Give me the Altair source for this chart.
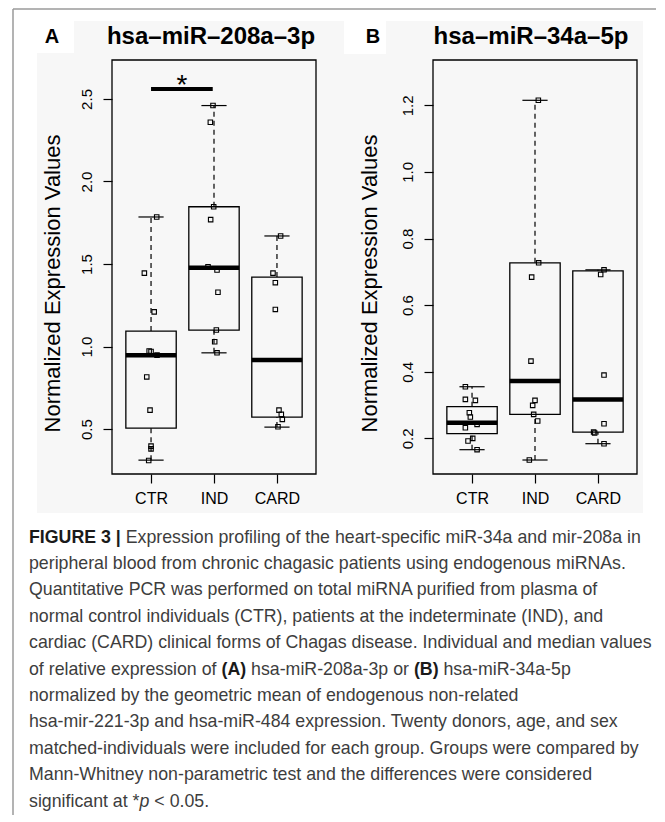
import altair as alt
import pandas as pd

GROUPS = ["CTR", "IND", "CARD"]
POS = [1, 2, 3]

# ---------- Panel A: hsa-miR-208a-3p ----------
A_LO = [0.312, 0.962, 0.512]
A_Q1 = [0.506, 1.100, 0.573]
A_MED = [0.948, 1.478, 0.918]
A_Q3 = [1.094, 1.847, 1.421]
A_HI = [1.785, 2.460, 1.670]

A_CTR = [1.785, 1.445, 1.21, 0.973, 0.97, 0.948, 0.816, 0.615, 0.397, 0.38, 0.31]
A_CTR_J = [0.09, -0.106, 0.05, -0.03, 0.0, 0.095, -0.068, -0.016, 0.0, 0.0, -0.037]
A_IND = [2.46, 2.359, 1.847, 1.769, 1.484, 1.464, 1.329, 1.10, 1.029, 0.962]
A_IND_J = [-0.016, -0.058, -0.005, -0.053, -0.095, 0.048, 0.063, 0.037, 0.011, 0.048]
A_CARD = [1.67, 1.445, 1.387, 1.225, 0.615, 0.589, 0.559, 0.514]
A_CARD_J = [0.058, -0.063, -0.026, -0.026, 0.032, 0.069, 0.085, 0.016]

A_YDOM = [0.228, 2.736]
A_TICKS = [0.5, 1.0, 1.5, 2.0, 2.5]
A_SIG = {"x": 1.0, "x2": 1.98, "y": 2.56, "ystar": 2.53, "xstar": 1.49}

# ---------- Panel B: hsa-miR-34a-5p ----------
B_LO = [0.166, 0.135, 0.184]
B_Q1 = [0.214, 0.272, 0.219]
B_MED = [0.247, 0.372, 0.317]
B_Q3 = [0.295, 0.727, 0.703]
B_HI = [0.355, 1.215, 0.706]

B_CTR = [0.355, 0.317, 0.314, 0.277, 0.264, 0.242, 0.232, 0.2, 0.192, 0.166]
B_CTR_J = [-0.106, -0.106, 0.053, -0.043, -0.027, 0.08, -0.106, 0.011, -0.064, 0.08]
B_IND = [1.215, 0.727, 0.684, 0.432, 0.314, 0.299, 0.272, 0.252, 0.135]
B_IND_J = [0.053, 0.058, -0.053, -0.064, 0.0, -0.037, -0.021, 0.043, -0.09]
B_CARD = [0.706, 0.692, 0.39, 0.244, 0.219, 0.216, 0.184]
B_CARD_J = [0.096, 0.043, 0.096, 0.096, -0.069, -0.053, 0.096]

B_YDOM = [0.093, 1.336]
B_TICKS = [0.2, 0.4, 0.6, 0.8, 1.0, 1.2]

YTITLE = "Normalized Expression Values"

CAPTION = [
    [("FIGURE 3 |", "b"), (" Expression profiling of the heart-specific miR-34a and mir-208a in", "r")],
    [("peripheral blood from chronic chagasic patients using endogenous miRNAs.", "r")],
    [("Quantitative PCR was performed on total miRNA purified from plasma of", "r")],
    [("normal control individuals (CTR), patients at the indeterminate (IND), and", "r")],
    [("cardiac (CARD) clinical forms of Chagas disease. Individual and median values", "r")],
    [("of relative expression of ", "r"), ("(A)", "b"), (" hsa-miR-208a-3p or ", "r"), ("(B)", "b"), (" hsa-miR-34a-5p", "r")],
    [("normalized by the geometric mean of endogenous non-related", "r")],
    [("hsa-mir-221-3p and hsa-miR-484 expression. Twenty donors, age, and sex", "r")],
    [("matched-individuals were included for each group. Groups were compared by", "r")],
    [("Mann-Whitney non-parametric test and the differences were considered", "r")],
    [("significant at *", "r"), ("p", "i"), (" < 0.05.", "r")],
]

FONT = "Liberation Sans"

# Arial / Liberation Sans advance widths (per 1000 em)
REG = {" ": 278, "(": 333, ")": 333, "*": 389, ",": 278, "-": 333, ".": 278, "<": 584, "|": 260,
       "A": 667, "B": 667, "C": 722, "D": 722, "E": 667, "F": 611, "G": 778, "H": 722, "I": 278,
       "J": 500, "K": 667, "L": 556, "M": 833, "N": 722, "O": 778, "P": 667, "Q": 778, "R": 722,
       "S": 667, "T": 611, "U": 722, "V": 667, "W": 944, "X": 667, "Y": 667, "Z": 611,
       "a": 556, "b": 556, "c": 500, "d": 556, "e": 556, "f": 278, "g": 556, "h": 556, "i": 222,
       "j": 222, "k": 500, "l": 222, "m": 833, "n": 556, "o": 556, "p": 556, "q": 556, "r": 333,
       "s": 500, "t": 278, "u": 556, "v": 500, "w": 722, "x": 500, "y": 500, "z": 500}
BOLD = {" ": 278, "(": 333, ")": 333, "|": 280, "A": 722, "B": 722, "E": 667, "F": 611, "G": 778,
        "I": 278, "R": 722, "U": 722}


def em_width(s, style):
    table = BOLD if style == "b" else REG
    return sum(table.get(c, 556) for c in s) / 1000.0


def panel_frames(lo, q1, med, q3, hi):
    st = pd.DataFrame({"pos": POS, "lo": lo, "q1": q1, "med": med, "q3": q3, "hi": hi})
    st["xl"] = st["pos"] - 0.4
    st["xr"] = st["pos"] + 0.4
    st["sl"] = st["pos"] - 0.2
    st["sr"] = st["pos"] + 0.2
    return st


def points_frame(groups):
    rows = []
    for p, vals, jit in groups:
        for v, j in zip(vals, jit):
            rows.append({"x": p + j, "val": v})
    return pd.DataFrame(rows)


one = pd.DataFrame({"k": [0]})
label_expr = "datum.value == 1 ? '%s' : datum.value == 2 ? '%s' : '%s'" % tuple(GROUPS)
W, H = 204, 414


def make_panel(st, pts, ydom, yticks, title, letter, title_x, sig=None, extra=None, ytitle_x=-53):
    xs = alt.Scale(domain=[0.38, 3.62], nice=False, zero=False)
    ys = alt.Scale(domain=ydom, nice=False, zero=False)
    xaxis = alt.Axis(values=POS, labelExpr=label_expr, tickSize=9, labelPadding=7, labelFontSize=16,
                     title=None, grid=False, domain=False, labelFont=FONT, labelColor="black",
                     tickColor="black", tickWidth=1.2, zindex=2)
    yaxis = alt.Axis(values=yticks, format=".1f", labelAngle=270, labelAlign="center",
                     labelBaseline="alphabetic", labelPadding=12, tickSize=9, labelFontSize=15,
                     labelFont=FONT, labelColor="black", tickColor="black", tickWidth=1.2,
                     title=YTITLE, titleFontSize=22, titleFontWeight="normal", titleFont=FONT,
                     titleColor="black", titleAngle=270, titleAlign="center",
                     titleBaseline="alphabetic", titleX=ytitle_x, titleY=223,
                     grid=False, domain=False, labelOverlap=False, labelFlush=False, zindex=2)
    layers = []
    if extra is not None:
        layers.extend(extra)
    layers.append(alt.Chart(one).mark_rect(fillOpacity=0, stroke="black", strokeWidth=1.3).encode(
        x=alt.value(0), x2=alt.value(W), y=alt.value(0), y2=alt.value(H)))
    base = alt.Chart(st)
    box = base.mark_rect(fillOpacity=0, stroke="black", strokeWidth=1.3).encode(
        x=alt.X("xl:Q", scale=xs, axis=xaxis), x2="xr:Q",
        y=alt.Y("q1:Q", scale=ys, axis=yaxis), y2="q3:Q")
    wh_up = base.mark_rule(color="black", strokeWidth=1.2, strokeDash=[5, 4]).encode(
        x="pos:Q", y="q3:Q", y2="hi:Q")
    wh_dn = base.mark_rule(color="black", strokeWidth=1.2, strokeDash=[5, 4]).encode(
        x="pos:Q", y="lo:Q", y2="q1:Q")
    cap_up = base.mark_rule(color="black", strokeWidth=1.2).encode(x="sl:Q", x2="sr:Q", y="hi:Q")
    cap_dn = base.mark_rule(color="black", strokeWidth=1.2).encode(x="sl:Q", x2="sr:Q", y="lo:Q")
    median = base.mark_rule(color="black", strokeWidth=4.5).encode(x="xl:Q", x2="xr:Q", y="med:Q")
    pt = alt.Chart(pts).mark_point(shape="square", filled=False, size=20, color="black",
                                   strokeWidth=1.1, opacity=1).encode(x="x:Q", y="val:Q")
    layers += [box, wh_up, wh_dn, cap_up, cap_dn, median, pt]
    if sig is not None:
        sdf = pd.DataFrame([sig])
        layers.append(alt.Chart(sdf).mark_rule(color="black", strokeWidth=4).encode(
            x="x:Q", x2="x2:Q", y="y:Q"))
        layers.append(alt.Chart(sdf).mark_text(text="*", fontSize=28, font=FONT, align="center",
                                               baseline="alphabetic", color="black").encode(
            x="xstar:Q", y="ystar:Q"))
    layers.append(alt.Chart(one).mark_text(text=title, fontSize=24, fontWeight="bold", font=FONT,
                                           align="center", baseline="alphabetic", color="black").encode(
        x=alt.value(title_x), y=alt.value(-16)))
    layers.append(alt.Chart(one).mark_text(text=letter, fontSize=20, fontWeight="bold", font=FONT,
                                           align="center", baseline="alphabetic", color="black").encode(
        x=alt.value(-60), y=alt.value(-17)))
    return alt.layer(*layers).properties(width=W, height=H)


# decorations for panel A (coordinates relative to panel A plot area)
bgA = [
    alt.Chart(one).mark_rect(fill="#f7f7f7").encode(
        x=alt.value(-75), x2=alt.value(531), y=alt.value(-39), y2=alt.value(453)),
    alt.Chart(one).mark_rect(fill="white").encode(
        x=alt.value(-76), x2=alt.value(-38), y=alt.value(-40), y2=alt.value(-7)),
    alt.Chart(one).mark_rule(color="#9a9a9a", strokeWidth=1.5).encode(
        x=alt.value(-99), x2=alt.value(544), y=alt.value(-51)),
    alt.Chart(one).mark_rule(color="#9a9a9a", strokeWidth=1.5).encode(
        x=alt.value(-99), y=alt.value(-51), y2=alt.value(755)),
]
bgB = [
    alt.Chart(one).mark_rect(fill="white").encode(
        x=alt.value(-89), x2=alt.value(-47), y=alt.value(-40), y2=alt.value(-6)),
]

stA = panel_frames(A_LO, A_Q1, A_MED, A_Q3, A_HI)
ptA = points_frame([(1, A_CTR, A_CTR_J), (2, A_IND, A_IND_J), (3, A_CARD, A_CARD_J)])
stB = panel_frames(B_LO, B_Q1, B_MED, B_Q3, B_HI)
ptB = points_frame([(1, B_CTR, B_CTR_J), (2, B_IND, B_IND_J), (3, B_CARD, B_CARD_J)])

panelA = make_panel(stA, ptA, A_YDOM, A_TICKS, "hsa–miR–208a–3p", "A", 99, sig=A_SIG, extra=bgA,
                    ytitle_x=-53)
panelB = make_panel(stB, ptB, B_YDOM, B_TICKS, "hsa–miR–34a–5p", "B", 98, extra=bgB, ytitle_x=-57)

# ---------- caption ----------
line1_em = sum(em_width(t, s) for t, s in CAPTION[0])
CAP_FS = round(612 / line1_em, 2)
CAP_X0 = -83.0   # relative to caption view origin (aligned with panel A plot left)
CAP_Y0 = 48.5
CAP_DY = 26.4
rows = []
for i, segs in enumerate(CAPTION):
    x = CAP_X0
    for t, s in segs:
        lead = len(t) - len(t.lstrip(" "))
        x += lead * 0.278 * CAP_FS
        txt = t.strip(" ")
        rows.append({"text": txt, "xpx": x, "ypx": CAP_Y0 + i * CAP_DY, "style": s})
        x += em_width(txt, s) * CAP_FS
        trail = len(t) - len(t.rstrip(" "))
        x += trail * 0.278 * CAP_FS
cap = pd.DataFrame(rows)


def cap_layer(style, **kw):
    return alt.Chart(cap).transform_filter(alt.datum.style == style).mark_text(
        align="left", baseline="alphabetic", font=FONT, fontSize=CAP_FS, **kw).encode(
        x=alt.X("xpx:Q", scale=None), y=alt.Y("ypx:Q", scale=None), text="text:N")


caption = alt.layer(
    cap_layer("r", color="#3d3d3d"),
    cap_layer("b", color="#1a1a1a", fontWeight="bold"),
    cap_layer("i", color="#3d3d3d", fontStyle="italic"),
).properties(width=W, height=10)

chart = alt.concat(panelA, panelB, caption, columns=2,
                   spacing={"row": 20, "column": 117}, bounds="flush").properties(
    padding={"left": 4, "top": 0, "right": 0, "bottom": 0}
).configure_view(strokeWidth=0)

chart.save("out.html", embed_options={"renderer": "svg", "actions": False})
